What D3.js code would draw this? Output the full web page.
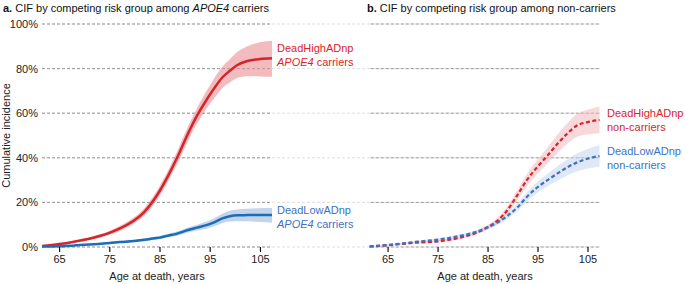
<!DOCTYPE html>
<html>
<head>
<meta charset="utf-8">
<script src="https://cdn.jsdelivr.net/npm/d3@7"></script>
<style>
  body { margin: 0; background: #fff; }
  svg { display: block; font-family: "Liberation Sans", Arial, sans-serif; }
  .tick text { font-size: 11px; fill: #222; }
</style>
</head>
<body>
<div id="chart"></div>
<script>
// ---- Data ----
const yTicks = [0, 20, 40, 60, 80, 100];
const xTicks = [65, 75, 85, 95, 105];

// panel a: APOE4 carriers
const agesA = [61.6, 65, 68, 71, 75, 77, 80, 82, 84, 85, 86.5, 88.5, 90.5, 92.5, 94.5, 96, 97.5, 99, 100.5, 102.5, 105, 107.4];
const highA = [0.4, 1.3, 2.4, 3.7, 6.3, 8.2, 12, 15.8, 21.5, 25, 31, 40, 50, 59, 66.5, 71.5, 76, 79, 81.6, 83.4, 84.3, 84.6];
const highALo = [0.2, 1.0, 2.0, 3.1, 5.4, 7.1, 10.6, 14.1, 19.5, 22.8, 28.6, 37.2, 46.8, 55.5, 62.5, 67, 71.2, 73.8, 75.8, 76.6, 76.5, 76.3];
const highAHi = [0.6, 1.6, 2.8, 4.3, 7.2, 9.3, 13.4, 17.5, 23.5, 27.2, 33.4, 42.8, 53.2, 62.5, 70.5, 76, 80.8, 84.2, 87.4, 90, 91.8, 92.5];
const lowA = [0.2, 0.3, 0.7, 1.1, 1.8, 2.2, 2.7, 3.2, 3.9, 4.2, 5, 6, 7.5, 8.7, 9.9, 11.2, 12.8, 13.8, 14.2, 14.3, 14.4, 14.4];
const lowALo = [0.1, 0.2, 0.5, 0.8, 1.4, 1.7, 2.2, 2.6, 3.2, 3.5, 4.2, 5.1, 6.4, 7.4, 8.3, 9.4, 10.7, 11.4, 11.6, 11.5, 11.2, 10.9];
const lowAHi = [0.3, 0.4, 0.9, 1.4, 2.2, 2.7, 3.2, 3.8, 4.6, 4.9, 5.8, 6.9, 8.6, 10, 11.5, 13, 14.9, 16.2, 16.8, 17.1, 17.4, 17.5];

// panel b: non-carriers
const agesB = [61.4, 65, 68, 71, 75, 79.7, 83, 85, 87, 89, 91, 93, 95, 97, 99, 101, 103, 105, 107.4];
const highB = [0.2, 0.75, 1.4, 2, 2.5, 4.3, 6.6, 8.8, 11.8, 16.6, 23.4, 30.4, 36, 41, 46.3, 51, 54.6, 56, 57];
const highBLo = [0.1, 0.55, 1.1, 1.6, 2.0, 3.7, 5.8, 7.8, 10.4, 14.8, 21.1, 27.6, 32.8, 37.4, 42.2, 46.4, 49.5, 50.5, 51];
const highBHi = [0.3, 0.95, 1.7, 2.4, 3.0, 4.9, 7.4, 9.8, 13.2, 18.4, 25.7, 33.2, 39.2, 44.6, 50.4, 55.6, 59.7, 61.5, 63];
const lowB = [0.3, 0.9, 1.6, 2.4, 3.3, 5.1, 7, 8.8, 11, 14, 17.8, 22.8, 26.8, 30, 33, 35.8, 38, 39.6, 40.8];
const lowBLo = [0.2, 0.7, 1.3, 2.0, 2.8, 4.5, 6.3, 7.9, 9.9, 12.6, 16.1, 20.7, 24.3, 27.2, 29.8, 32.2, 34, 35.2, 36];
const lowBHi = [0.4, 1.1, 1.9, 2.8, 3.8, 5.7, 7.7, 9.7, 12.1, 15.4, 19.5, 24.9, 29.3, 32.8, 36.2, 39.4, 42, 44, 45.6];

const width = 685, height = 284;
const red = "#d5242b", redLabel = "#d7262b";
const blueA = "#1d6db6", blueB = "#3f71c1", blueLabel = "#3b73c2";

const svg = d3.select("#chart").append("svg")
    .attr("width", width)
    .attr("height", height);

const y = d3.scaleLinear().domain([0, 100]).range([247, 24]);
const xDomain = [61.6, 107.4];
const xA = d3.scaleLinear().domain(xDomain).range([42, 272]);
const xB = d3.scaleLinear().domain(xDomain).range([370.6, 599.5]);

// ---- Gridlines ----
const grid = svg.append("g");
yTicks.forEach(t => {
    grid.append("line")
        .attr("x1", 42).attr("x2", 600)
        .attr("y1", y(t)).attr("y2", y(t))
        .attr("stroke", "#999").attr("stroke-width", 1)
        .attr("stroke-dasharray", "3,2")
        .attr("opacity", 0.3);
    [xA, xB].forEach(x => {
        grid.append("line")
            .attr("x1", x.range()[0]).attr("x2", x.range()[1])
            .attr("y1", y(t)).attr("y2", y(t))
            .attr("stroke", "#999").attr("stroke-width", 1)
            .attr("stroke-dasharray", "3,2");
    });
});

// ---- Y labels (left only) ----
svg.append("g")
    .attr("transform", "translate(42,0)")
    .call(d3.axisLeft(y).tickValues(yTicks).tickSize(0).tickPadding(4).tickFormat(d => d + "%"))
    .call(g => g.select(".domain").remove());

svg.append("text")
    .attr("transform", `translate(10,${(y(0) + y(100)) / 2}) rotate(-90)`)
    .attr("text-anchor", "middle")
    .style("font-size", "11px")
    .attr("fill", "#222")
    .text("Cumulative incidence");

// ---- Panels ----
function drawPanel(x, ages, series, dashed) {
    const g = svg.append("g");

    series.forEach(s => {
        const rows = ages.map((a, i) => ({ a, v: s.v[i], lo: s.lo[i], hi: s.hi[i] }));
        g.append("path")
            .datum(rows)
            .attr("fill", s.band)
            .attr("opacity", s.bandOpacity)
            .attr("d", d3.area().curve(d3.curveMonotoneX)
                .x(d => x(d.a)).y0(d => y(d.lo)).y1(d => y(d.hi)));
    });
    series.forEach(s => {
        const rows = ages.map((a, i) => ({ a, v: s.v[i] }));
        g.append("path")
            .datum(rows)
            .attr("fill", "none")
            .attr("stroke", s.color)
            .attr("stroke-width", dashed ? 2.2 : 2.5)
            .attr("stroke-dasharray", dashed ? "4,2.5" : null)
            .attr("d", d3.line().curve(d3.curveMonotoneX).x(d => x(d.a)).y(d => y(d.v)));
    });

    // x axis
    g.append("g")
        .attr("transform", `translate(0,${y(0)})`)
        .call(d3.axisBottom(x).tickValues(xTicks).tickSize(5).tickPadding(3))
        .call(ax => ax.select(".domain").remove())
        .call(ax => ax.selectAll(".tick line").attr("stroke", "#111").attr("stroke-width", 1.2));

    g.append("text")
        .attr("x", (x.range()[0] + x.range()[1]) / 2)
        .attr("y", 280)
        .attr("text-anchor", "middle")
        .style("font-size", "11px")
        .attr("fill", "#222")
        .text("Age at death, years");
}

drawPanel(xA, agesA, [
    { v: highA, lo: highALo, hi: highAHi, color: red, band: "#e98d92", bandOpacity: 0.6 },
    { v: lowA, lo: lowALo, hi: lowAHi, color: blueA, band: "#9bb8df", bandOpacity: 0.6 }
], false);

drawPanel(xB, agesB, [
    { v: highB, lo: highBLo, hi: highBHi, color: red, band: "#f2b8bb", bandOpacity: 0.55 },
    { v: lowB, lo: lowBLo, hi: lowBHi, color: blueB, band: "#c5d5ee", bandOpacity: 0.55 }
], true);

// ---- Titles ----
function title(xPos, bold, parts) {
    const t = svg.append("text")
        .attr("x", xPos).attr("y", 12)
        .style("font-size", "11px")
        .attr("fill", "#111");
    t.append("tspan").attr("font-weight", "bold").text(bold);
    parts.forEach(p => t.append("tspan").attr("font-style", p.i ? "italic" : null).text(p.t));
}
title(3, "a.", [{ t: " CIF by competing risk group among " }, { t: "APOE4", i: true }, { t: " carriers" }]);
title(367, "b.", [{ t: " CIF by competing risk group among non-carriers" }]);

// ---- Series labels ----
function label(xPos, yPos, color, line1, line2) {
    const t = svg.append("text")
        .attr("x", xPos).attr("y", yPos)
        .style("font-size", "11px")
        .attr("fill", color);
    t.append("tspan").attr("x", xPos).text(line1);
    const t2 = t.append("tspan").attr("x", xPos).attr("dy", 14);
    line2.forEach(p => t2.append("tspan").attr("font-style", p.i ? "italic" : null).text(p.t));
}
label(277, 52, redLabel, "DeadHighADnp", [{ t: "APOE4", i: true }, { t: " carriers" }]);
label(277, 214, blueLabel, "DeadLowADnp", [{ t: "APOE4", i: true }, { t: " carriers" }]);
label(607, 117, redLabel, "DeadHighADnp", [{ t: "non-carriers" }]);
label(607, 155, blueLabel, "DeadLowADnp", [{ t: "non-carriers" }]);
</script>
</body>
</html>
